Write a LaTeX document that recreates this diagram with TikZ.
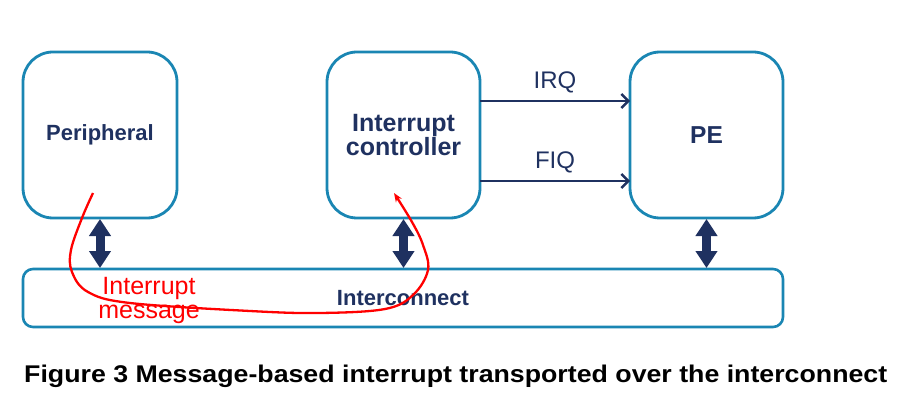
\documentclass[tikz,border=0pt]{standalone}
\usepackage{fontspec}
\usepackage{graphicx}
\setmainfont{Liberation Sans}
\usetikzlibrary{arrows.meta}
\definecolor{navy}{HTML}{1F3160}
\definecolor{boxblue}{HTML}{1A86B3}
\definecolor{msgred}{HTML}{FF0000}
\tikzset{
  blockbox/.style={draw=boxblue, line width=2.8pt, rounded corners=30pt, inner sep=0pt, outer sep=0pt,
    text=navy, align=center, font=\bfseries},
  busbox/.style={draw=boxblue, line width=2.6pt, rounded corners=10pt, inner sep=0pt, outer sep=0pt,
    text=navy, font=\bfseries\fontsize{22}{24}\selectfont},
  dblarrow/.style={draw=navy, line width=9pt, {Triangle[length=17pt,width=21pt]}-{Triangle[length=17pt,width=21pt]}, shorten <=1pt, shorten >=1pt},
  sigarrow/.style={draw=navy, line width=2.4pt, -{Straight Barb[length=7pt,width=14pt,line width=2.4pt]}},
  siglabel/.style={text=navy, inner sep=0pt, font=\fontsize{24}{24}\selectfont, anchor=base},
  msgcurve/.style={draw=msgred, line width=2.3pt, -{Stealth[length=9pt,width=7pt]}},
}
\begin{document}
\begin{tikzpicture}[x=1pt, y=-1pt]
\useasboundingbox (0,0) rectangle (901,395);
\node[blockbox, minimum width=154pt, minimum height=166pt, font=\bfseries\fontsize{22}{24}\selectfont] (per) at (100,135) {Peripheral};
\node[blockbox, minimum width=153pt, minimum height=166pt, font=\bfseries\fontsize{25}{24}\selectfont] (ic) at (403.5,135) {Interrupt\\controller};
\node[blockbox, minimum width=153pt, minimum height=166pt, font=\bfseries\fontsize{24.5}{24}\selectfont] (pe) at (706.5,135) {PE};
\node[busbox, minimum width=760pt, minimum height=58pt] (bus) at (403,298) {Interconnect};

\draw[dblarrow] (per.south) -- (per.south |- bus.north);
\draw[dblarrow] (ic.south) -- (ic.south |- bus.north);
\draw[dblarrow] (pe.south) -- (pe.south |- bus.north);

\draw[sigarrow] ([yshift=34pt]ic.east) -- ([yshift=34pt]pe.west);
\draw[sigarrow] ([yshift=-46pt]ic.east) -- ([yshift=-46pt]pe.west);
\node[siglabel] (irq) at (555,89) {IRQ};
\node[siglabel] (fiq) at (555,169) {FIQ};

\coordinate (ms) at (93,193);
\coordinate (me) at (394,193);
\draw[msgcurve] plot[smooth, tension=0.6] coordinates {(ms) (82,218) (71,250) (72,272) (88,292) (130,303) (250,311) (320,313) (385,309) (413,295) (428,270) (423,245) (412,222) (me)};
\node[text=msgred, inner sep=0pt, align=center, font=\fontsize{25}{24}\selectfont] (msg) at (149,300) {Interrupt\\message};

\node[anchor=base west, inner sep=0pt] (cap) at (24,382) {\resizebox{863pt}{17.5pt}{\bfseries Figure 3 Message-based interrupt transported over the interconnect}};
\end{tikzpicture}
\end{document}
